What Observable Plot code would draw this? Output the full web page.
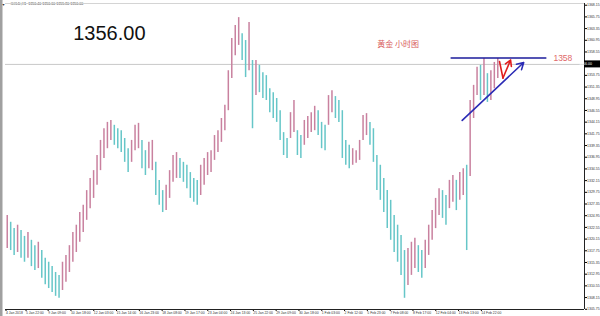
<!DOCTYPE html>
<html><head><meta charset="utf-8">
<script src="https://cdn.jsdelivr.net/npm/d3@7"></script>
<script src="https://cdn.jsdelivr.net/npm/@observablehq/plot@0.6"></script>
<style>
body{margin:0;background:#fff;}
#chart{position:relative;width:600px;height:316px;overflow:hidden;background:#fff;}
</style></head><body><div id="chart"></div>
<script>
// ---- data ----
const symbol = "GOLD,H1";
const headerOHLC = ["1356.40", "1356.60", "1355.80", "1356.00"];
const lastPrice = 1356.00;
const bigLabel = "1356.00";
const chartTitle = "黄金 小时图";
const barsPerColumn = 5; // hourly bars aggregated per drawn column
const colHigh = [
1325.0,1323.6,1322.3,1323.0,1321.9,1320.7,1321.5,1319.9,1318.8,1319.5,
1317.8,1316.2,1315.4,1314.5,1313.3,1312.7,1315.4,1316.8,1318.8,1321.5,
1323.0,1325.6,1327.1,1330.1,1332.6,1334.2,1337.3,1340.4,1342.8,1344.1,
1344.5,1343.5,1342.8,1342.4,1340.8,1338.7,1340.4,1343.5,1343.9,1340.4,
1338.3,1340.0,1340.4,1335.9,1332.2,1330.1,1331.2,1334.2,1337.3,1337.9,
1336.7,1335.9,1335.3,1333.8,1332.6,1332.2,1335.3,1336.7,1337.9,1338.3,
1341.4,1342.4,1344.9,1347.6,1354.7,1361.3,1364.0,1365.6,1362.3,1360.9,
1364.6,1356.8,1356.8,1355.8,1354.3,1353.7,1351.0,1350.2,1349.0,1346.5,
1342.0,1340.8,1346.1,1348.6,1342.4,1341.4,1344.5,1345.3,1346.1,1347.4,
1346.5,1344.1,1343.5,1349.6,1350.6,1349.4,1348.6,1346.5,1340.4,1339.4,
1338.7,1338.3,1340.4,1345.5,1345.9,1344.1,1342.8,1337.3,1335.3,1332.6,
1330.1,1328.1,1325.0,1323.0,1320.9,1317.8,1318.2,1319.5,1320.3,1318.8,
1317.8,1319.9,1323.0,1326.0,1328.5,1330.5,1330.1,1329.1,1332.2,1333.2,
1332.2,1333.8,1334.6,1335.3,1348.6,1351.7,1355.4,1355.8,1357.2,1354.1,
1354.7,1356.4,1357.2];
const colLow = [
1318.2,1317.8,1316.8,1317.4,1316.2,1315.4,1316.2,1314.5,1313.7,1314.1,
1312.1,1310.8,1310.0,1309.2,1308.4,1308.0,1309.6,1311.3,1313.3,1315.4,
1317.4,1319.5,1321.5,1324.0,1326.4,1328.5,1331.2,1334.2,1336.7,1338.7,
1340.4,1339.4,1338.7,1337.9,1335.9,1333.8,1335.9,1338.3,1338.7,1334.6,
1333.2,1334.6,1334.2,1329.1,1327.1,1325.6,1326.0,1328.5,1331.8,1332.6,
1332.6,1331.8,1330.5,1328.5,1327.7,1327.1,1329.1,1331.2,1333.2,1333.8,
1336.3,1337.9,1340.0,1342.4,1346.5,1353.1,1357.8,1359.9,1356.8,1353.3,
1354.7,1342.8,1349.6,1350.2,1349.0,1348.6,1346.1,1344.9,1344.1,1340.4,
1337.3,1336.7,1340.8,1342.0,1337.3,1336.7,1339.4,1340.8,1342.0,1342.4,
1341.4,1338.7,1338.3,1343.5,1346.1,1344.9,1344.1,1336.7,1335.3,1334.6,
1335.3,1335.7,1336.3,1340.4,1341.4,1339.4,1335.9,1330.1,1328.1,1325.6,
1322.3,1319.9,1317.4,1315.4,1312.7,1308.0,1310.6,1312.7,1314.1,1313.3,
1312.1,1314.1,1316.8,1319.9,1322.3,1325.0,1324.4,1323.0,1326.4,1327.7,
1326.0,1328.1,1329.1,1317.8,1333.0,1344.9,1349.6,1348.6,1349.6,1348.2,
1348.6,1351.0,1353.1];
const yTickValues = [1368.15,1365.75,1363.35,1360.95,1358.55,1353.75,1351.35,1348.95,1346.55,
1344.15,1341.75,1339.35,1336.95,1334.55,1332.15,1329.75,1327.35,1324.95,1322.55,1320.15,1317.75,
1315.35,1312.95,1310.55,1308.15,1305.75];
const xTickBars = [0,29,61,94,127,160,193,226,259,292,325,358,391,424,457,490,523,556,589,622,655,688];
const xTickLabels = ["4 Jan 2018","5 Jan 22:00","9 Jan 09:00","10 Jan 18:00","12 Jan 03:00","15 Jan 14:00",
"16 Jan 23:00","18 Jan 08:00","19 Jan 17:00","23 Jan 04:00","24 Jan 13:00","25 Jan 22:00","29 Jan 09:00",
"30 Jan 18:00","1 Feb 03:00","2 Feb 12:00","5 Feb 23:00","7 Feb 08:00","8 Feb 17:00","12 Feb 04:00",
"13 Feb 13:00","14 Feb 22:00"];
const xDomainBars = [0, 838];
const yDomain = [1305.7, 1368.5];
// annotations
const resistancePrice = 1357.3;
const resistanceBars = [645, 782];
const resistanceText = "1358";
const resistanceTextBar = 793;
const trendBars = [661, 750];
const trendPrices = [1344.5, 1356.4];
const vBars = [715, 720, 731];
const vPrices = [1356.6, 1353.2, 1356.9];
const titleBar = 538, titlePrice = 1360.0;
const bigLabelBar = 98, bigLabelPrice = 1362.3;

// ---- build ----
const pink = "#c9819f", teal = "#66c6c8";
const cols = colHigh.map((h, i) => {
  const mid = (h + colLow[i]) / 2;
  const prevMid = i ? (colHigh[i-1] + colLow[i-1]) / 2 : mid;
  return {bar: i * barsPerColumn + barsPerColumn / 2, hi: h, lo: colLow[i], up: mid >= prevMid};
});

const axisFont = "Liberation Sans, sans-serif";
const plot = Plot.plot({
  width: 600, height: 316,
  marginLeft: 5, marginRight: 16, marginTop: 3, marginBottom: 7,
  style: {fontFamily: axisFont, fontSize: "4px", background: "#fff"},
  x: {domain: xDomainBars},
  y: {domain: yDomain},
  marks: [
    Plot.ruleY([lastPrice], {stroke: "#c8c8c8", strokeWidth: 1}),
    Plot.ruleX(cols, {x: "bar", y1: "lo", y2: "hi", stroke: d => d.up ? pink : teal, strokeWidth: 1.5}),
    Plot.line(resistanceBars.map(b => ({x: b, y: resistancePrice})), {x: "x", y: "y", stroke: "#1c1c9c", strokeWidth: 1.6}),
    Plot.arrow([{x1: trendBars[0], y1: trendPrices[0], x2: trendBars[1], y2: trendPrices[1]}],
      {x1: "x1", y1: "y1", x2: "x2", y2: "y2", stroke: "#2b2bb5", strokeWidth: 1.6, headLength: 7}),
    Plot.line(vBars.slice(0, 2).map((b, i) => ({x: b, y: vPrices[i]})), {x: "x", y: "y", stroke: "#e01e1e", strokeWidth: 1.6}),
    Plot.arrow([{x1: vBars[1], y1: vPrices[1], x2: vBars[2], y2: vPrices[2]}],
      {x1: "x1", y1: "y1", x2: "x2", y2: "y2", stroke: "#e01e1e", strokeWidth: 1.6, headLength: 6}),
    Plot.text([resistanceText], {x: resistanceTextBar, y: resistancePrice, text: d => d, fill: "#e06868", fontSize: 8.5, textAnchor: "start", fontFamily: "Liberation Sans, sans-serif"}),
    Plot.text([chartTitle], {x: titleBar, y: titlePrice, text: d => d, fill: "#d85c5c", fontSize: 8, textAnchor: "start", fontFamily: "Noto Sans CJK SC, sans-serif"}),
    Plot.text([bigLabel], {x: bigLabelBar, y: bigLabelPrice, text: d => d, fill: "#111", fontSize: 20, textAnchor: "start", fontFamily: "Liberation Sans, sans-serif"}),
    Plot.text([`${symbol}  ${headerOHLC.join(" ")}`], {frameAnchor: "top-left", text: d => d, dx: 5, dy: -1.5, fontSize: 3.6, fill: "#333", lineAnchor: "top"}),
    Plot.axisY({anchor: "right", ticks: yTickValues, tickFormat: d => d.toFixed(2), tickSize: 2, tickPadding: 0.5, fontSize: 3.5, label: null, fill: "#333"}),
    Plot.axisX({ticks: xTickBars, tickFormat: d => xTickLabels[xTickBars.indexOf(d)], tickSize: 2, tickPadding: 0.5, textAnchor: "start", dx: 0.5, fontSize: 3.4, label: null, fill: "#333"}),
    Plot.ruleY([yDomain[0]], {stroke: "#222", strokeWidth: 1}),
    Plot.ruleX([xDomainBars[1]], {stroke: "#222", strokeWidth: 1}),
    Plot.ruleY([yDomain[1]], {stroke: "#d4d4d4", strokeWidth: 1})
  ]
});
document.getElementById("chart").appendChild(plot);

// window border strip, collapse triangle and current price box, placed with the plot's scales
const svg = d3.select(plot);
svg.append("rect").attr("x", 0).attr("y", 0).attr("width", 2.5).attr("height", 316).attr("fill", "#a0a0a0");
svg.append("text").attr("x", 3.5).attr("y", 6).attr("font-size", 3.5).attr("fill", "#333").text("▼");
const py = plot.scale("y").apply(lastPrice);
const px = plot.scale("x").apply(xDomainBars[1]);
svg.append("rect").attr("x", px).attr("y", py - 3.5).attr("width", 600 - px).attr("height", 7).attr("fill", "#000");
svg.append("text").attr("x", px + 1.5).attr("y", py + 1.3).attr("font-size", 3.5).attr("fill", "#fff")
  .attr("font-family", axisFont).text(lastPrice.toFixed(2));
</script></body></html>
